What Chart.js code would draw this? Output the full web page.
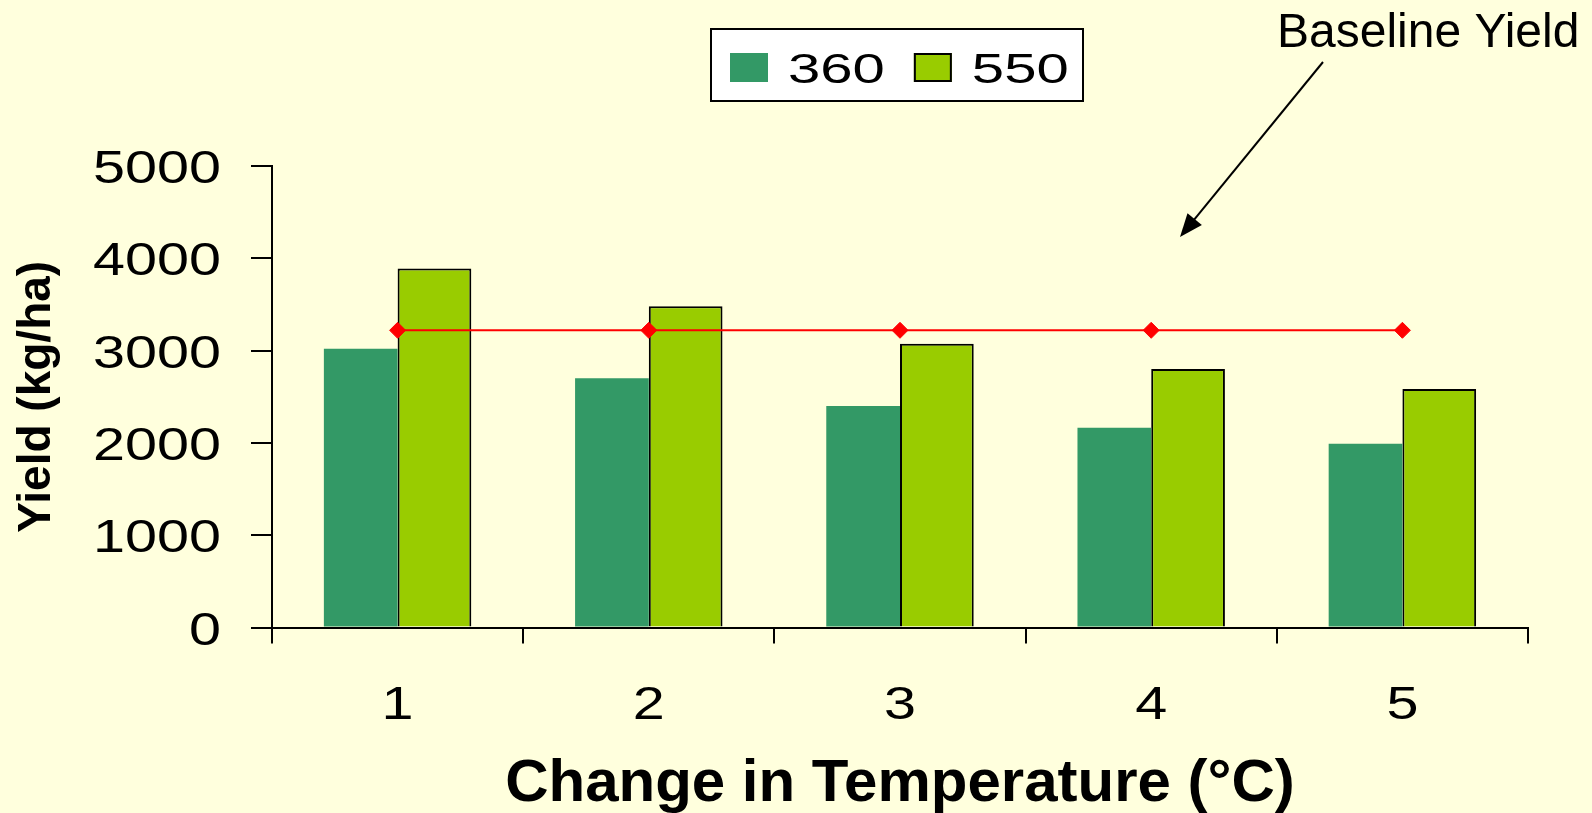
<!DOCTYPE html>
<html>
<head>
<meta charset="utf-8">
<script src="https://cdn.jsdelivr.net/npm/chart.js@4.4.0/dist/chart.umd.min.js"></script>
<style>
  html, body { margin: 0; padding: 0; background: #ffffdd; }
  canvas { display: block; }
</style>
</head>
<body>
<canvas id="bar-chart" width="1592" height="813"></canvas>
<script>
// data
let temperatureChange = ['1', '2', '3', '4', '5']
let yield360 = [3020, 2700, 2400, 2165, 1990]
let yield550 = [3890, 3480, 3075, 2800, 2585]
let baselineYield = [3220, 3220, 3220, 3220, 3220]
let yTicks = [0, 1000, 2000, 3000, 4000, 5000]

const WIDE = 1.25 // the slide text is a bit stretched sideways

function wideText(ctx, text, x, y, sx) {
  ctx.save()
  ctx.translate(x, y)
  ctx.scale(sx, 1)
  ctx.fillText(text, 0, 0)
  ctx.restore()
  return ctx.measureText(text).width * sx
}

// tick labels, placed with the chart's own scales
const wideTicks = {
  id: 'wideTicks',
  afterDraw(chart) {
    const ctx = chart.ctx
    const xs = chart.scales.x
    const ys = chart.scales.y
    ctx.save()
    ctx.fillStyle = '#000'
    ctx.font = '46px "Liberation Sans"'
    ctx.textBaseline = 'alphabetic'
    yTicks.forEach(function(v) {
      let lab = String(v)
      let w = ctx.measureText(lab).width * WIDE
      wideText(ctx, lab, ys.right - 51 - w, ys.getPixelForValue(v) + 17, WIDE)
    })
    temperatureChange.forEach(function(lab, i) {
      let w = ctx.measureText(lab).width * WIDE
      wideText(ctx, lab, xs.getPixelForValue(i) - w / 2, xs.top + 91, WIDE)
    })
    ctx.restore()
  }
}

// white boxed legend (only the two bar series)
const boxLegend = {
  id: 'boxLegend',
  afterDraw(chart) {
    const ctx = chart.ctx
    ctx.save()
    ctx.fillStyle = '#ffffff'
    ctx.strokeStyle = '#000000'
    ctx.lineWidth = 2
    ctx.fillRect(711, 29, 372, 72)
    ctx.strokeRect(711, 29, 372, 72)

    ctx.font = '43px "Liberation Sans"'
    ctx.textBaseline = 'alphabetic'
    ctx.textAlign = 'left'
    let x = 730
    chart.data.datasets.forEach(function(ds) {
      if (ds.type === 'line') return
      ctx.fillStyle = ds.backgroundColor
      ctx.fillRect(x, 53, 38, 29)
      if (ds.borderWidth) {
        ctx.lineWidth = 2
        ctx.strokeStyle = '#000'
        ctx.strokeRect(x + 1, 54, 36, 27)
      }
      ctx.fillStyle = '#000'
      let w = wideText(ctx, ds.label, x + 58, 82.5, 1.35)
      x += 58 + w + 29
    })
    ctx.restore()
  }
}

// "Baseline Yield" note with arrow
const baselineNote = {
  id: 'baselineNote',
  afterDraw(chart) {
    const ctx = chart.ctx
    ctx.save()
    ctx.fillStyle = '#000'
    ctx.font = '48px "Liberation Sans"'
    ctx.textAlign = 'left'
    ctx.textBaseline = 'alphabetic'
    ctx.fillText('Baseline Yield', 1277, 47)

    let x0 = 1323, y0 = 62, x1 = 1180, y1 = 237
    let ang = Math.atan2(y1 - y0, x1 - x0)
    ctx.strokeStyle = '#000'
    ctx.lineWidth = 2
    ctx.beginPath()
    ctx.moveTo(x0, y0)
    ctx.lineTo(x1 - Math.cos(ang) * 14, y1 - Math.sin(ang) * 14)
    ctx.stroke()
    ctx.beginPath()
    ctx.moveTo(x1, y1)
    ctx.lineTo(x1 - Math.cos(ang - 0.38) * 25, y1 - Math.sin(ang - 0.38) * 25)
    ctx.lineTo(x1 - Math.cos(ang + 0.38) * 25, y1 - Math.sin(ang + 0.38) * 25)
    ctx.closePath()
    ctx.fill()
    ctx.restore()
  }
}

new Chart(document.getElementById('bar-chart'), {
  type: 'bar',
  data: {
    labels: temperatureChange,
    datasets: [
      {
        type: 'line',
        label: 'Baseline Yield',
        data: baselineYield,
        borderColor: '#ff0000',
        borderWidth: 2,
        pointStyle: 'rectRot',
        pointRadius: 8,
        pointBackgroundColor: '#ff0000',
        pointBorderColor: '#ff0000',
        pointBorderWidth: 1,
        fill: false,
        order: 0
      },
      {
        label: '360',
        data: yield360,
        backgroundColor: '#339966',
        borderWidth: 0,
        order: 1
      },
      {
        label: '550',
        data: yield550,
        backgroundColor: '#99cc00',
        borderColor: '#000000',
        borderWidth: 2,
        order: 1
      }
    ]
  },
  options: {
    responsive: false,
    animation: false,
    events: [],
    categoryPercentage: 0.587,
    barPercentage: 1.0,
    layout: { padding: { top: 166, right: 64, left: 0, bottom: 0 } },
    plugins: {
      legend: { display: false },
      tooltip: { enabled: false }
    },
    scales: {
      x: {
        afterFit: function(scale) { scale.height = 185.5 },
        grid: { drawOnChartArea: false, color: '#000', lineWidth: 2, tickLength: 16, offset: true },
        border: { color: '#000', width: 2 },
        ticks: { display: false },
        title: {
          display: true,
          text: 'Change in Temperature (°C)',
          color: '#000',
          font: { family: 'Liberation Sans', size: 60, weight: 'bold', lineHeight: 0.95 },
          padding: { top: 0, bottom: 0 }
        }
      },
      y: {
        min: 0,
        max: 5000,
        afterBuildTicks: function(scale) { scale.ticks = yTicks.map(v => ({ value: v })) },
        afterFit: function(scale) { scale.width = 272 },
        grid: { drawOnChartArea: false, color: '#000', lineWidth: 2, tickLength: 21 },
        border: { color: '#000', width: 2 },
        ticks: { display: false },
        title: {
          display: true,
          text: 'Yield (kg/ha)',
          color: '#000',
          font: { family: 'Liberation Sans', size: 46, weight: 'bold', lineHeight: 1 },
          padding: { top: 14, bottom: 0 }
        }
      }
    }
  },
  plugins: [wideTicks, boxLegend, baselineNote]
});
</script>
</body>
</html>
